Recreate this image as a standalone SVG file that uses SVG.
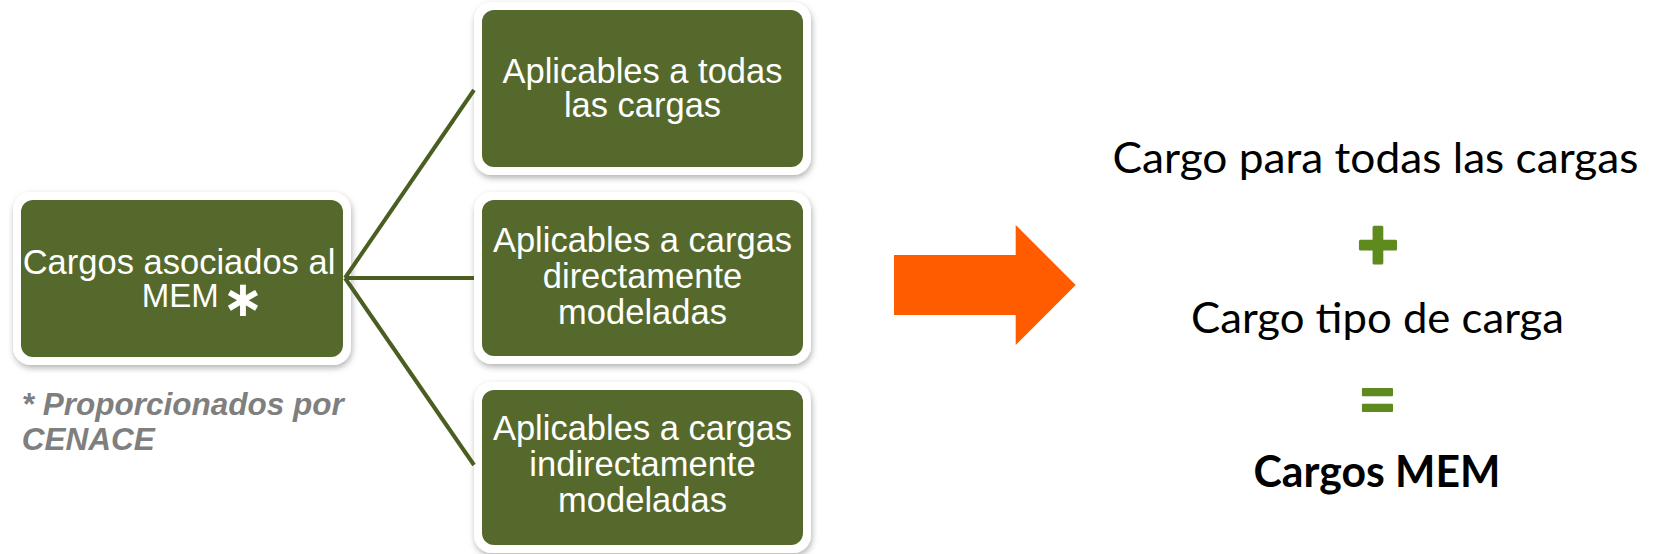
<svg xmlns="http://www.w3.org/2000/svg" width="1653" height="554" viewBox="0 0 1653 554">
<defs>
<filter id="sh" x="-10%" y="-10%" width="125%" height="130%">
<feDropShadow dx="1" dy="3" stdDeviation="3" flood-color="#000" flood-opacity="0.3"/>
</filter>
<style>
.frame{fill:#fff;filter:url(#sh)}
.box{fill:#55692C}
.bt{font-family:"Liberation Sans",Arial,sans-serif;font-size:34.5px;fill:#fff;text-anchor:middle}
.conn{stroke:#4B5E22;stroke-width:4;fill:none;stroke-linecap:butt}
.note{font-family:"Liberation Sans",Arial,sans-serif;font-size:31.5px;font-weight:bold;font-style:italic;fill:#7F7F7F}
.rt{font-family:Lato,"Open Sans",sans-serif;font-size:43px;fill:#000;text-anchor:middle}
.op{font-family:"Liberation Sans",Arial,sans-serif;font-weight:bold;fill:#5F8A1E;stroke:#5F8A1E;stroke-linejoin:round;text-anchor:middle}
</style>
</defs>
<rect width="1653" height="554" fill="#fff"/>
<g id="node-cargos">
<rect class="frame" x="13" y="192" width="338" height="173" rx="18"/>
<rect class="box" x="21" y="200" width="322" height="157" rx="12"/>
<text class="bt" x="179" y="273.5">Cargos asociados al</text>
<text class="bt" x="141.7" y="306.7" style="text-anchor:start;font-size:33px">MEM</text>
<text x="243" y="316" style="font-family:'DejaVu Sans',sans-serif;font-weight:bold;font-size:50px;fill:#fff;text-anchor:middle">∗</text>
</g>
<g id="node-todas">
<rect class="frame" x="474" y="2" width="337" height="173" rx="18"/>
<rect class="box" x="482" y="10" width="321" height="157" rx="12"/>
<text class="bt" x="642.5" y="83">Aplicables a todas</text>
<text class="bt" x="642.5" y="117">las cargas</text>
</g>
<g id="node-directas">
<rect class="frame" x="474" y="192" width="337" height="172" rx="18"/>
<rect class="box" x="482" y="200" width="321" height="156" rx="12"/>
<text class="bt" x="642.5" y="252">Aplicables a cargas</text>
<text class="bt" x="642.5" y="288">directamente</text>
<text class="bt" x="642.5" y="324">modeladas</text>
</g>
<g id="node-indirectas">
<rect class="frame" x="474" y="382" width="337" height="171" rx="18"/>
<rect class="box" x="482" y="390" width="321" height="155" rx="12"/>
<text class="bt" x="642.5" y="440">Aplicables a cargas</text>
<text class="bt" x="642.5" y="476">indirectamente</text>
<text class="bt" x="642.5" y="512">modeladas</text>
</g>
<g id="connectors">
<line class="conn" x1="345" y1="278" x2="474" y2="90"/>
<line class="conn" x1="345" y1="278" x2="474" y2="278"/>
<line class="conn" x1="345" y1="278" x2="474" y2="465"/>
</g>
<g id="note">
<text class="note" x="21.7" y="415">* Proporcionados por</text>
<text class="note" x="21.7" y="450">CENACE</text>
</g>
<g id="arrow">
<polygon points="894,255 1015.7,255 1015.7,225 1075.7,285 1015.7,345 1015.7,315 894,315" fill="#FF5C00"/>
</g>
<g id="formula">
<text class="rt" x="1375.5" y="173" textLength="526" lengthAdjust="spacingAndGlyphs">Cargo para todas las cargas</text>
<text class="op" x="1378" y="268.5" style="font-size:70px;stroke-width:3">+</text>
<text class="rt" x="1377.5" y="333" textLength="373" lengthAdjust="spacingAndGlyphs">Cargo tipo de carga</text>
<text class="op" x="1377.5" y="418.7" style="font-size:58px;stroke-width:2">=</text>
<text class="rt" x="1377" y="487.4" style="font-weight:bold" textLength="247" lengthAdjust="spacingAndGlyphs">Cargos MEM</text>
</g>
</svg>
